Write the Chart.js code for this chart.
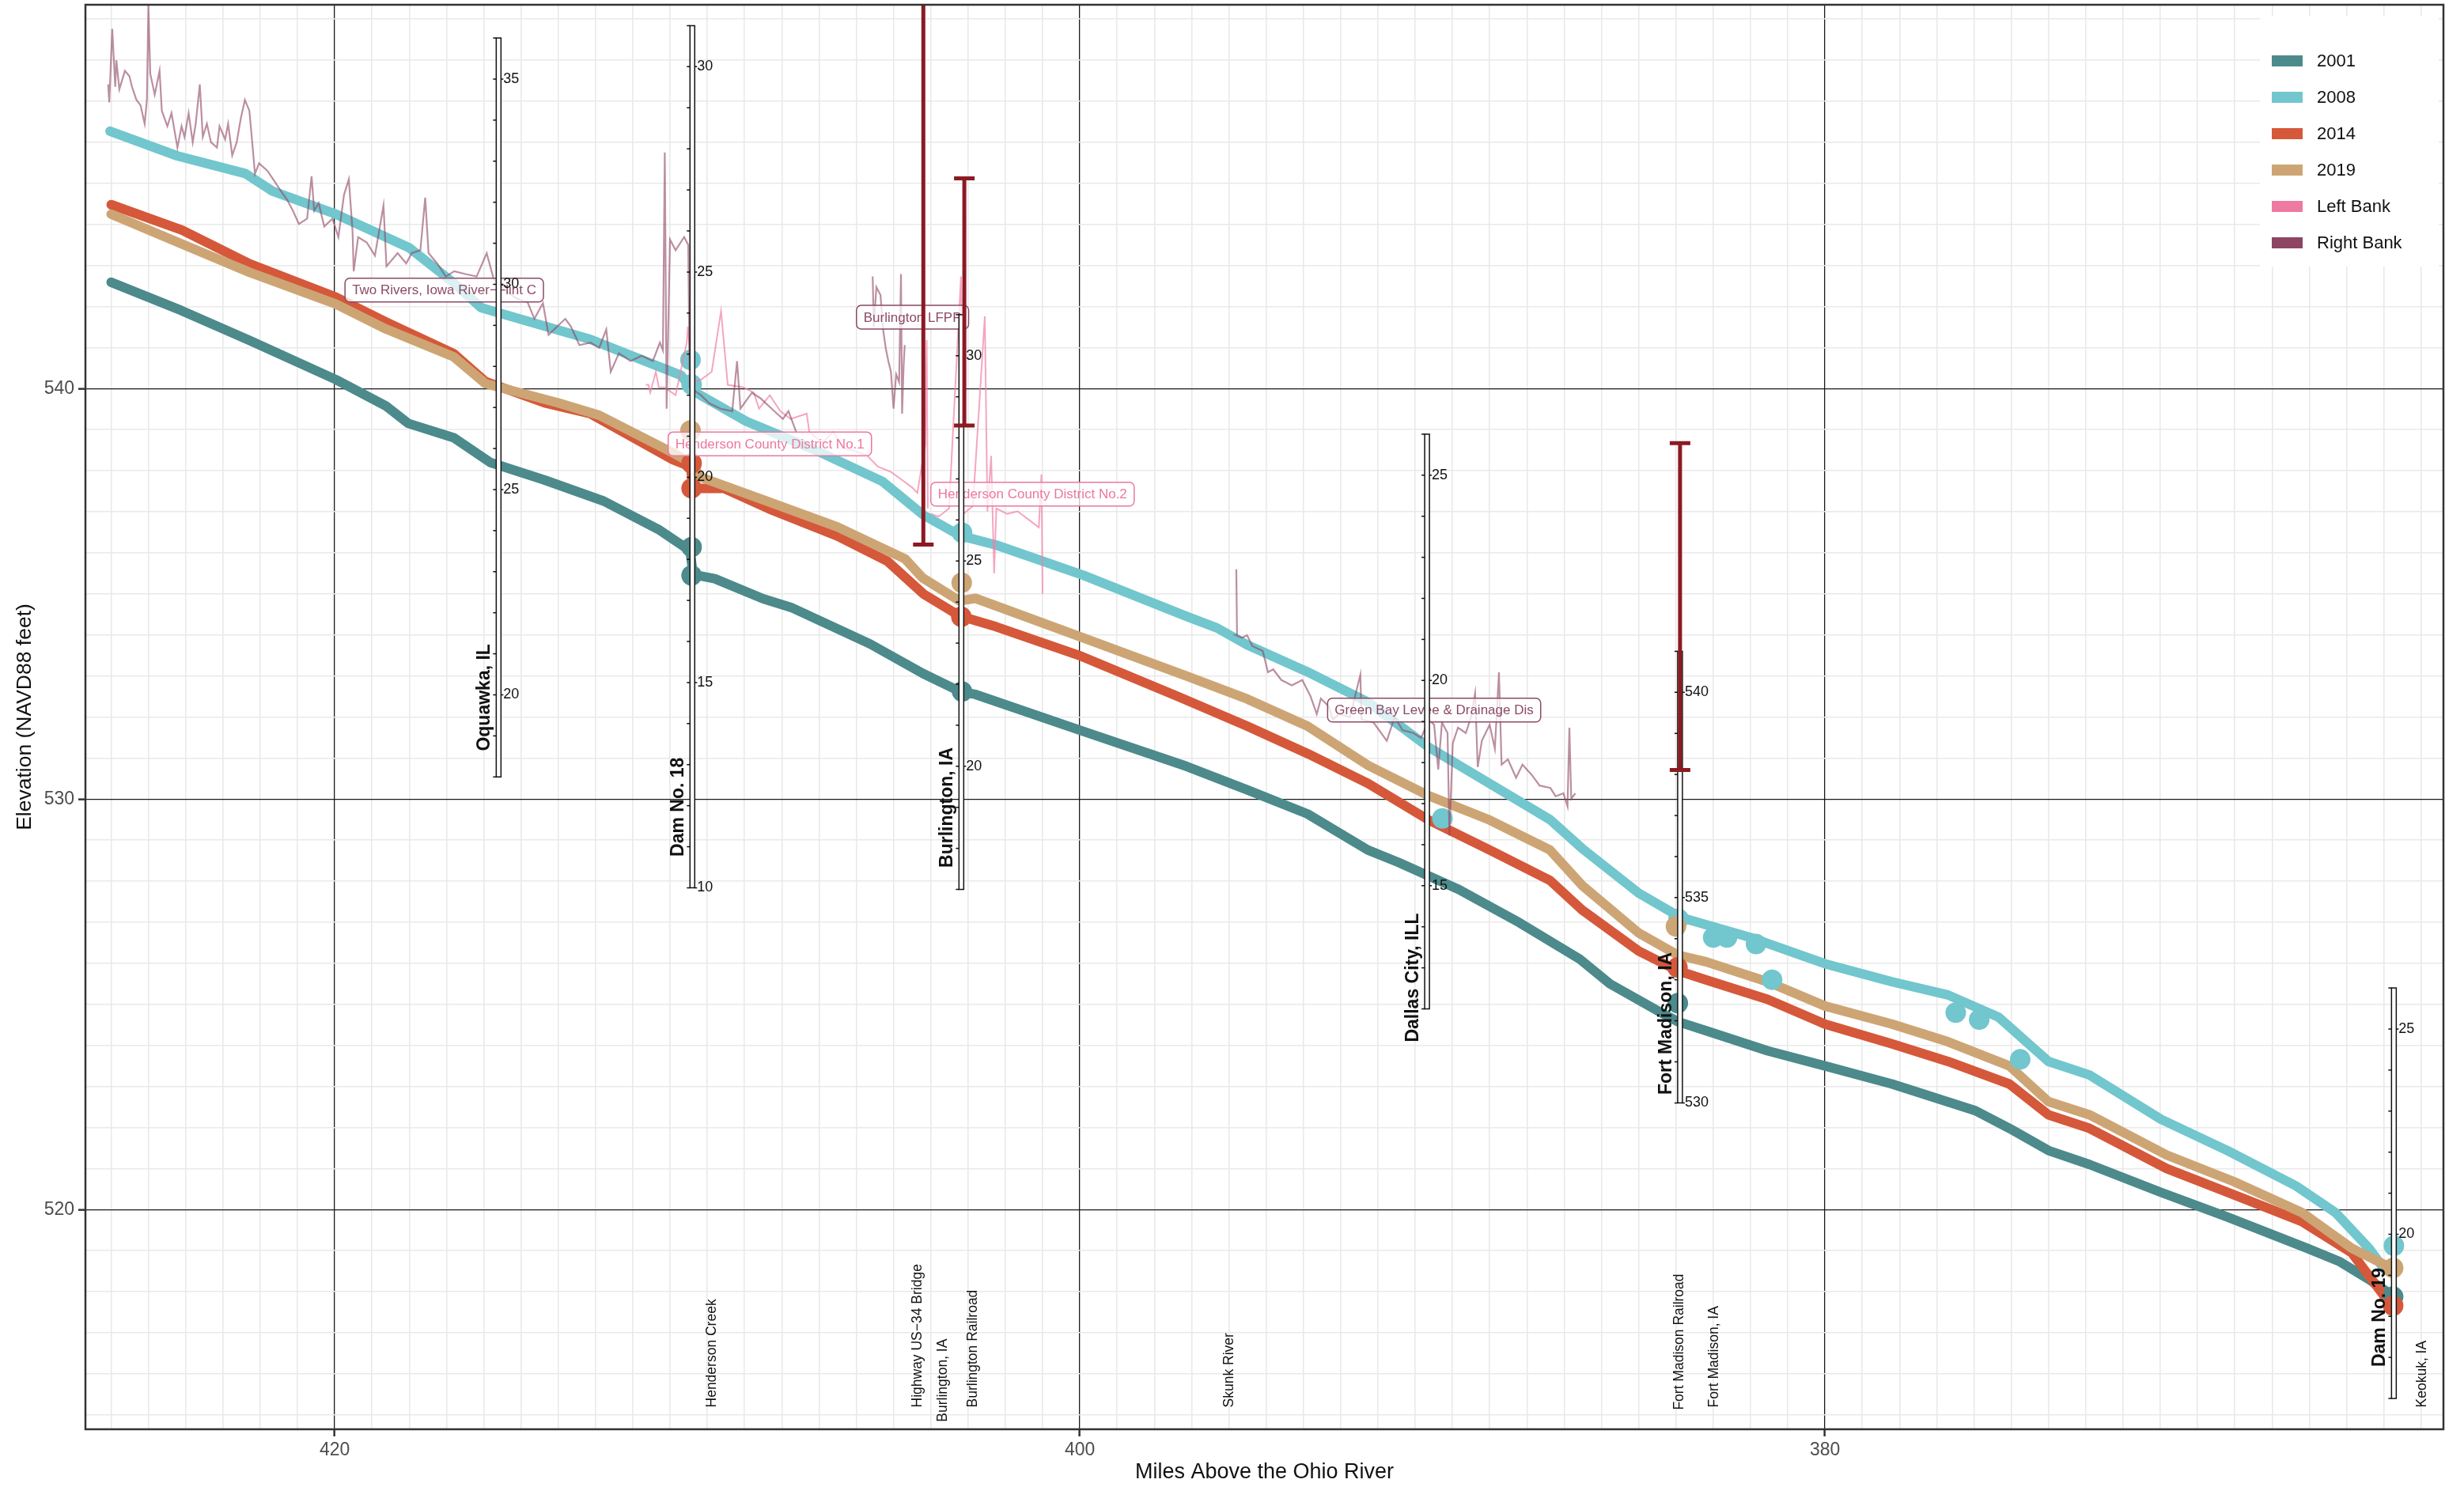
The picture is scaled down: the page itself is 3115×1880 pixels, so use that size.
<!DOCTYPE html>
<html>
<head>
<meta charset="utf-8">
<title>Water surface profiles, Pool 19</title>
<script src="https://cdn.jsdelivr.net/npm/chart.js@4.4.1/dist/chart.umd.min.js"></script>
<style>
  html, body { margin: 0; padding: 0; background: #fff; }
  #wrap { width: 3115px; height: 1880px; }
</style>
</head>
<body>
<div id="wrap"><canvas id="profileChart"></canvas></div>
<script>
// === Profile data (river mile, elevation NAVD88 ft) ===
const miles2001 = [426.0, 424.11, 422.28, 419.97, 418.63, 418.02, 416.8, 415.82, 414.36, 412.78, 411.31, 410.46, 410.38, 409.8, 408.5, 407.75, 405.63, 404.21, 403.19, 402.8, 399.97, 397.14, 395.52, 393.89, 392.27, 391.45, 389.83, 388.2, 386.58, 385.77, 384.4, 383.95, 383.2, 381.54, 380.0, 378.2, 375.96, 375.05, 374.0, 372.9, 370.98, 369.2, 367.06, 366.2, 365.4, 364.8];
const elev2001 = [542.59, 541.9, 541.17, 540.22, 539.58, 539.15, 538.8, 538.2, 537.77, 537.26, 536.57, 536.05, 535.47, 535.37, 534.88, 534.67, 533.78, 533.06, 532.61, 532.55, 531.67, 530.8, 530.23, 529.64, 528.76, 528.46, 527.8, 526.99, 526.1, 525.5, 524.8, 524.58, 524.36, 523.87, 523.5, 523.06, 522.41, 521.98, 521.44, 521.1, 520.42, 519.82, 519.06, 518.74, 518.3, 517.93];

const miles2008 = [426.03, 424.23, 422.4, 421.67, 419.97, 418.0, 416.8, 416.07, 415.58, 413.14, 411.92, 410.7, 410.4, 408.95, 407.12, 405.3, 404.2, 403.22, 402.25, 399.9, 397.13, 396.32, 395.51, 393.89, 392.26, 390.63, 389.0, 387.38, 386.52, 385.0, 383.88, 382.0, 380.0, 378.2, 376.7, 375.34, 374.0, 372.9, 370.98, 369.2, 367.36, 366.3, 365.4, 364.96];
const elev2008 = [546.27, 545.67, 545.24, 544.81, 544.25, 543.43, 542.57, 541.97, 541.84, 541.2, 540.76, 540.32, 539.95, 539.2, 538.51, 537.74, 536.92, 536.42, 536.19, 535.45, 534.45, 534.17, 533.76, 533.1, 532.36, 531.26, 530.38, 529.5, 528.8, 527.71, 527.12, 526.63, 525.99, 525.55, 525.23, 524.69, 523.61, 523.28, 522.2, 521.44, 520.58, 519.93, 519.06, 518.52];

const miles2014 = [426.0, 424.1, 422.28, 419.97, 418.62, 416.8, 415.95, 414.36, 413.14, 410.95, 410.45, 410.38, 409.56, 408.34, 406.51, 405.17, 404.2, 403.22, 402.25, 399.96, 397.37, 395.51, 393.89, 392.26, 390.63, 389.0, 387.38, 386.52, 385.0, 383.95, 383.2, 381.54, 380.0, 378.2, 376.7, 375.05, 374.0, 372.9, 370.83, 369.02, 367.2, 365.86, 364.8];
const elev2014 = [544.48, 543.86, 543.04, 542.23, 541.62, 540.85, 540.17, 539.65, 539.39, 538.28, 538.1, 537.57, 537.57, 537.07, 536.41, 535.8, 535.0, 534.46, 534.2, 533.48, 532.5, 531.78, 531.11, 530.38, 529.49, 528.76, 528.02, 527.3, 526.3, 525.82, 525.6, 525.12, 524.52, 524.04, 523.61, 523.06, 522.31, 521.98, 521.0, 520.36, 519.71, 518.95, 517.66];

const miles2019 = [426.0, 424.1, 422.28, 419.97, 418.62, 416.8, 415.95, 413.99, 412.9, 410.95, 410.45, 410.17, 408.34, 406.51, 404.69, 404.22, 403.23, 402.8, 399.97, 397.14, 395.51, 393.89, 392.26, 390.63, 389.0, 387.38, 386.52, 385.0, 383.95, 383.2, 381.54, 380.0, 378.2, 376.7, 375.05, 374.0, 372.9, 370.83, 369.02, 367.2, 365.86, 364.8];
const elev2019 = [544.25, 543.52, 542.83, 542.06, 541.45, 540.77, 540.12, 539.65, 539.35, 538.45, 538.2, 537.84, 537.24, 536.63, 535.85, 535.39, 534.83, 534.89, 533.95, 533.0, 532.44, 531.78, 530.82, 530.08, 529.49, 528.76, 527.9, 526.74, 526.2, 526.04, 525.55, 524.96, 524.52, 524.09, 523.5, 522.63, 522.31, 521.33, 520.68, 519.93, 519.06, 518.58];

// gauge readings shown as dots
const dotMiles2001 = [410.42, 410.42, 403.16, 383.95, 364.75];
const dotElev2001 = [536.14, 535.45, 532.62, 525.03, 517.88];
const dotMiles2008 = [410.45, 410.42, 403.16, 390.27, 383.93, 383.0, 382.63, 381.85, 381.42, 376.49, 375.86, 374.76, 364.73];
const dotElev2008 = [540.7, 540.1, 536.49, 529.53, 527.08, 526.63, 526.63, 526.47, 525.6, 524.8, 524.63, 523.66, 519.12];
const dotMiles2014 = [410.42, 410.42, 403.18, 383.96, 364.75];
const dotElev2014 = [538.18, 537.57, 534.44, 525.9, 517.66];
const dotMiles2019 = [410.45, 403.17, 384.0, 364.75];
const dotElev2019 = [538.98, 535.27, 526.9, 518.58];

// levee crest profiles (null = gap between levees)
const leftBankMiles = [411.65, 411.58, 411.53, 411.38, 411.3, 411.15, 410.85, 410.55, 410.52, 410.4, 410.16, 409.88, 409.63, 409.45, 409.03, 408.75, 408.61, 408.32, 408.04, 407.76, 407.33, 407.26, 406.91, 406.62, 406.34, 406.06, 405.7, 405.42, 405.07, 404.78, 404.5, 404.36, 404.29, 404.15, 404.11, 404.08,
  404.04,
  404.0, 403.79, 403.51, 403.19, 403.12, 402.87, 402.55, 402.48, 402.38, 402.3, 402.24, 401.95, 401.67, 401.39, 401.1, 401.03, 401.0];
const leftBankElev = [540.09, 540.09, 539.9, 540.41, 540.03, 540.03, 539.84, 541.12, 541.51, 540.16, 540.22, 540.41, 541.89, 540.09, 540.03, 539.9, 539.51, 539.84, 539.45, 539.26, 539.39, 538.94, 538.68, 538.94, 538.55, 538.49, 538.36, 538.1, 537.97, 537.78, 537.59, 537.46, 537.85, 538.62, 541.18, 537.08,
  null,
  536.95, 536.88, 537.08, 542.73, 536.95, 537.14, 541.76, 537.01, 538.36, 535.5, 537.08, 536.95, 537.01, 536.82, 536.62, 537.91, 535.0];

const rightBankMiles = [426.08, 426.05, 425.97, 425.89, 425.86, 425.78, 425.63, 425.51, 425.44, 425.32, 425.21, 425.1, 425.04, 425.0, 424.95, 424.83, 424.7, 424.64, 424.49, 424.38, 424.22, 424.11, 424.03, 423.92, 423.81, 423.73, 423.62, 423.54, 423.43, 423.32, 423.16, 423.09, 422.94, 422.86, 422.75, 422.63, 422.52, 422.41, 422.29, 422.22, 422.14, 422.03, 421.8, 421.61, 421.42, 421.27, 421.12, 420.96, 420.74, 420.62, 420.55, 420.43, 420.28, 420.06, 419.9, 419.75, 419.62, 419.52, 419.49, 419.37, 419.14, 418.92, 418.69, 418.61, 418.31, 418.08, 417.93, 417.7, 417.57, 417.48, 417.25, 417.02, 416.79, 416.49, 416.19, 415.92, 415.73, 415.43, 415.13, 414.82, 414.64, 414.41, 414.26, 413.81, 413.66, 413.43, 413.13, 412.9, 412.71, 412.59, 412.37, 412.06, 411.76, 411.46, 411.27, 411.19, 411.14, 411.09, 411.0, 410.85, 410.62, 410.51, 410.47, 410.17, 409.94, 409.64, 409.33, 409.2, 409.11, 408.8, 408.58, 408.27, 407.97, 407.82, 407.61,
  406.5,
  405.56, 405.53, 405.46, 405.35, 405.28, 405.21, 405.14, 405.07, 405.0, 404.93, 404.85, 404.8, 404.77, 404.73, 404.7,
  400.0,
  395.8, 395.78, 395.8, 395.65, 395.51, 395.37, 395.09, 394.95, 394.81, 394.59, 394.31, 394.03, 393.81, 393.64, 393.53, 393.32, 393.21, 393.04, 392.75, 392.47, 392.44, 392.12, 391.76, 391.55, 391.34, 391.05, 390.84, 390.63, 390.49, 390.38, 390.28, 390.13, 390.08, 389.99, 389.85, 389.64, 389.5, 389.39, 389.32, 389.21, 389.0, 388.86, 388.75, 388.68, 388.51, 388.29, 388.12, 387.87, 387.66, 387.37, 387.23, 387.02, 386.91, 386.86, 386.81, 386.7];
const rightBankElev = [547.41, 546.97, 548.76, 547.35, 548.0, 547.29, 547.74, 547.61, 547.35, 547.03, 546.9, 546.45, 547.03, 549.34, 547.67, 547.16, 547.74, 546.77, 546.39, 546.71, 545.87, 546.39, 546.13, 546.71, 546.0, 546.45, 547.41, 546.13, 546.45, 546.0, 545.87, 546.39, 546.07, 546.45, 545.68, 546.0, 546.58, 547.03, 546.77, 546.07, 545.23, 545.49, 545.3, 545.04, 544.78, 544.59, 544.33, 544.01, 544.14, 545.17, 544.33, 544.52, 543.95, 544.14, 543.69, 544.72, 545.1, 543.82, 542.86, 543.69, 543.56, 543.24, 544.46, 542.98, 543.3, 543.05, 543.3, 543.37, 544.65, 543.3, 543.05, 542.73, 542.86, 542.79, 542.73, 543.3, 542.66, 542.4, 542.2, 542.1, 541.7, 542.08, 541.31, 541.7, 541.51, 541.06, 541.12, 540.99, 541.44, 540.41, 540.86, 540.67, 540.8, 540.67, 541.12, 540.93, 545.75, 539.51, 543.63, 543.37, 543.69, 543.5, 540.03, 539.84, 539.64, 539.51, 539.45, 540.67, 539.51, 539.9, 539.77, 539.51, 539.26, 539.45, 538.94,
  null,
  542.73, 541.51, 542.47, 542.28, 541.44, 540.99, 540.67, 540.41, 539.51, 540.35, 540.16, 542.79, 539.39, 540.54, 541.06,
  null,
  535.6, 533.99, 533.99, 533.93, 533.99, 533.73, 533.61, 533.09, 533.16, 532.9, 532.77, 532.9, 532.51, 532.07, 532.45, 532.26, 531.94, 532.07, 532.0, 533.03, 531.94, 531.87, 531.42, 532.0, 531.68, 531.61, 531.49, 531.94, 531.81, 530.72, 531.87, 531.61, 529.11, 531.36, 531.74, 531.61, 532.0, 532.58, 530.78, 531.42, 531.81, 531.23, 533.09, 530.84, 530.97, 530.52, 530.84, 530.59, 530.33, 530.27, 530.07, 530.14, 529.82, 531.74, 530.01, 530.14];

// error bars (flood ranges)
const errMiles = [404.2, 403.1, 383.89];
const errLow = [536.2, 539.1, 530.71];
const errHigh = [551.0, 545.12, 538.67];

// staff gauges: gauge reading + datum = elevation
const gaugeNames = ['Oquawka, IL', 'Dam No. 18', 'Burlington, IA', 'Dallas City, ILL', 'Fort Madison, IA', 'Dam No. 19'];
const gaugeMiles = [415.6, 410.4, 403.18, 390.68, 383.89, 364.73];
const gaugeDatum = [512.54, 517.84, 510.8, 512.89, -7.4, 499.4];
const gaugeMin = [18, 10, 17, 12, 530, 16];
const gaugeMax = [36, 31, 31, 26, 541, 26];
const gaugeNameElev = [531.17, 528.6, 528.33, 524.08, 522.8, 516.17];

// levee district labels
const leveeNames = ['Two Rivers, Iowa River\u2212Flint C', 'Burlington LFPP', 'Henderson County District No.1', 'Henderson County District No.2', 'Green Bay Levee & Drainage Dis'];
const leveeMiles = [417.06, 404.49, 408.32, 401.27, 390.49];
const leveeElev = [542.4, 541.74, 538.65, 537.43, 532.17];
const leveeBank = ['R', 'R', 'L', 'L', 'R'];

// landmarks along the bottom
const siteNames = ['Henderson Creek', 'Highway US\u221234 Bridge', 'Burlington, IA', 'Burlington Railroad', 'Skunk River', 'Fort Madison Railroad', 'Fort Madison, IA', 'Keokuk, IA'];
const siteMiles = [409.87, 404.35, 403.68, 402.87, 395.98, 383.9, 382.97, 363.98];
const siteElev = [515.18, 515.18, 514.83, 515.18, 515.18, 515.12, 515.18, 515.18];

// === Styles ===
const palette = {
  y2001: '#4c8a8b', y2008: '#72c6cd', y2014: '#d5583a', y2019: '#cda574',
  left: '#ee7aa0', right: '#8d4563',
  leftLine: 'rgba(240,128,165,0.7)', rightLine: 'rgba(141,69,99,0.6)',
  leftText: '#ea78a0', rightText: '#8b4a66', errbar: '#8b1a22'
};
const FONT = '"Liberation Sans", Arial, sans-serif';
Chart.defaults.font.family = FONT;

function pts(m, e) { return m.map((v, i) => ({ x: v, y: e[i] })); }

function seriesLine(label, m, e, color, order) {
  return { label: label, data: pts(m, e), borderColor: color, backgroundColor: color, borderWidth: 12,
    pointRadius: 0, borderJoinStyle: 'round', borderCapStyle: 'round', order: order };
}
function dotSet(label, m, e, color, order) {
  return { label: label, data: pts(m, e), showLine: false, pointRadius: 13, pointBorderWidth: 0,
    pointBackgroundColor: color, borderColor: color, order: order };
}

const legendItems = [
  ['2001', palette.y2001], ['2008', palette.y2008], ['2014', palette.y2014],
  ['2019', palette.y2019], ['Left Bank', palette.left], ['Right Bank', palette.right]
];

function vText(ctx, text, px, py) {
  ctx.save();
  ctx.translate(px, py);
  ctx.rotate(-Math.PI / 2);
  ctx.textAlign = 'left';
  ctx.textBaseline = 'middle';
  ctx.fillText(text, 0, 0);
  ctx.restore();
}

// === Overlay: levee labels, gauges, error bars, landmark text, legend ===
const overlayPlugin = {
  id: 'overlay',
  afterDatasetsDraw(chart) {
    const { ctx, chartArea: area, scales: { x, y } } = chart;
    ctx.save();
    ctx.beginPath();
    ctx.rect(area.left, area.top, area.right - area.left, area.bottom - area.top);
    ctx.clip();

    // levee district labels
    ctx.font = '17px ' + FONT;
    ctx.textAlign = 'center';
    ctx.textBaseline = 'middle';
    leveeNames.forEach((name, i) => {
      const px = x.getPixelForValue(leveeMiles[i]);
      const py = y.getPixelForValue(leveeElev[i]);
      const col = leveeBank[i] === 'L' ? palette.leftText : palette.rightText;
      const w = ctx.measureText(name).width + 18, h = 30;
      ctx.beginPath();
      if (ctx.roundRect) ctx.roundRect(px - w / 2, py - h / 2, w, h, 6);
      else ctx.rect(px - w / 2, py - h / 2, w, h);
      ctx.fillStyle = 'rgba(255,255,255,0.75)';
      ctx.fill();
      ctx.lineWidth = 1.5;
      ctx.strokeStyle = col;
      ctx.stroke();
      ctx.fillStyle = col;
      ctx.fillText(name, px, py + 1);
    });

    // staff gauges
    gaugeNames.forEach((name, i) => {
      const gx = x.getPixelForValue(gaugeMiles[i]);
      const top = y.getPixelForValue(gaugeDatum[i] + gaugeMax[i]);
      const bot = y.getPixelForValue(gaugeDatum[i] + gaugeMin[i]);
      ctx.fillStyle = '#fff';
      ctx.fillRect(gx - 3, top, 6, bot - top);
      ctx.strokeStyle = '#111';
      ctx.lineWidth = 1.5;
      ctx.strokeRect(gx - 3, top, 6, bot - top);
      ctx.font = '18px ' + FONT;
      ctx.textAlign = 'left';
      ctx.textBaseline = 'middle';
      ctx.fillStyle = '#111';
      for (let v = gaugeMin[i]; v <= gaugeMax[i]; v++) {
        const ty = y.getPixelForValue(gaugeDatum[i] + v);
        ctx.beginPath();
        ctx.moveTo(gx - 3, ty);
        ctx.lineTo(gx - 7, ty);
        if (v % 5 === 0) {
          ctx.moveTo(gx + 3, ty);
          ctx.lineTo(gx + 6, ty);
        }
        ctx.stroke();
        if (v % 5 === 0) ctx.fillText(String(v), gx + 6, ty);
      }
      ctx.font = 'bold 23px ' + FONT;
      vText(ctx, name, gx - 17.5, y.getPixelForValue(gaugeNameElev[i]));
    });

    // error bars
    ctx.strokeStyle = palette.errbar;
    ctx.lineWidth = 5;
    errMiles.forEach((m, i) => {
      const px = x.getPixelForValue(m);
      const lo = y.getPixelForValue(errLow[i]);
      const hi = y.getPixelForValue(errHigh[i]);
      ctx.beginPath();
      ctx.moveTo(px, hi); ctx.lineTo(px, lo);
      ctx.moveTo(px - 13, lo); ctx.lineTo(px + 13, lo);
      ctx.moveTo(px - 13, hi); ctx.lineTo(px + 13, hi);
      ctx.stroke();
    });

    // landmarks
    ctx.font = '17.5px ' + FONT;
    ctx.fillStyle = '#111';
    siteNames.forEach((name, i) => {
      vText(ctx, name, x.getPixelForValue(siteMiles[i]), y.getPixelForValue(siteElev[i]));
    });

    // legend
    const lx = area.right - 232, ly = area.top + 14;
    ctx.fillStyle = '#fff';
    ctx.fillRect(lx, ly, 226, 317);
    ctx.font = '22px ' + FONT;
    ctx.textAlign = 'left';
    ctx.textBaseline = 'middle';
    legendItems.forEach((item, i) => {
      const ry = area.top + 71 + i * 46;
      ctx.fillStyle = item[1];
      ctx.fillRect(area.right - 217, ry - 7, 39, 14);
      ctx.fillStyle = '#111';
      ctx.fillText(item[0], area.right - 160, ry + 1);
    });
    ctx.restore();
  },
  afterDraw(chart) {
    const { ctx, chartArea: area } = chart;
    ctx.save();
    ctx.strokeStyle = '#333';
    ctx.lineWidth = 2.5;
    ctx.strokeRect(area.left, area.top, area.right - area.left, area.bottom - area.top);
    ctx.restore();
  }
};

const isMajor = (v, step) => Math.abs(v / step - Math.round(v / step)) < 1e-6;

const ctx = document.getElementById('profileChart').getContext('2d');
new Chart(ctx, {
  type: 'line',
  data: {
    datasets: [
      seriesLine('2001', miles2001, elev2001, palette.y2001, 9),
      seriesLine('2008', miles2008, elev2008, palette.y2008, 8),
      seriesLine('2014', miles2014, elev2014, palette.y2014, 7),
      seriesLine('2019', miles2019, elev2019, palette.y2019, 6),
      dotSet('2001 gauges', dotMiles2001, dotElev2001, palette.y2001, 5),
      dotSet('2008 gauges', dotMiles2008, dotElev2008, palette.y2008, 4),
      dotSet('2014 gauges', dotMiles2014, dotElev2014, palette.y2014, 3),
      dotSet('2019 gauges', dotMiles2019, dotElev2019, palette.y2019, 2),
      { label: 'Left Bank', data: pts(leftBankMiles, leftBankElev), borderColor: palette.leftLine,
        borderWidth: 2, pointRadius: 0, spanGaps: false, order: 1 },
      { label: 'Right Bank', data: pts(rightBankMiles, rightBankElev), borderColor: palette.rightLine,
        borderWidth: 2.2, pointRadius: 0, spanGaps: false, order: 0 }
    ]
  },
  options: {
    responsive: true,
    maintainAspectRatio: false,
    devicePixelRatio: 1,
    animation: false,
    events: [],
    layout: { autoPadding: false, padding: { top: 6, right: 26, left: 0, bottom: 0 } },
    plugins: { legend: { display: false }, tooltip: { enabled: false } },
    scales: {
      x: {
        type: 'linear',
        reverse: true,
        min: 363.4,
        max: 426.69,
        afterFit: (s) => { s.height = 73; s.paddingLeft = 0; s.paddingRight = 0; },
        border: { display: false },
        grid: {
          color: (c) => isMajor(c.tick.value, 20) ? '#1a1a1a' : '#e9e9e9',
          lineWidth: (c) => isMajor(c.tick.value, 20) ? 1.3 : 1.6,
          tickColor: (c) => isMajor(c.tick.value, 20) ? '#333' : 'rgba(0,0,0,0)',
          tickWidth: 2.5,
          tickLength: 9
        },
        ticks: {
          stepSize: 1,
          autoSkip: false,
          includeBounds: false,
          maxTicksLimit: 1000,
          maxRotation: 0,
          padding: 4,
          color: '#4d4d4d',
          font: { size: 23 },
          callback: (v) => isMajor(v, 20) ? String(Math.round(v)) : ''
        },
        title: { display: true, text: 'Miles Above the Ohio River', color: '#111',
          font: { size: 27 }, padding: { top: 0, bottom: 2 } }
      },
      y: {
        type: 'linear',
        min: 514.65,
        max: 549.35,
        afterFit: (s) => { s.width = 108; s.paddingTop = 0; s.paddingBottom = 0; },
        border: { display: false },
        grid: {
          color: (c) => isMajor(c.tick.value, 10) ? '#1a1a1a' : '#e9e9e9',
          lineWidth: (c) => isMajor(c.tick.value, 10) ? 1.3 : 1.6,
          tickColor: (c) => isMajor(c.tick.value, 10) ? '#333' : 'rgba(0,0,0,0)',
          tickWidth: 2.5,
          tickLength: 9
        },
        ticks: {
          stepSize: 1,
          autoSkip: false,
          includeBounds: false,
          maxTicksLimit: 1000,
          padding: 5,
          color: '#4d4d4d',
          font: { size: 23 },
          callback: (v) => isMajor(v, 10) ? String(Math.round(v)) : ''
        },
        title: { display: true, text: 'Elevation (NAVD88 feet)', color: '#111',
          font: { size: 26.5 }, padding: { top: 16, bottom: 0 } }
      }
    }
  },
  plugins: [overlayPlugin]
});
</script>
</body>
</html>
